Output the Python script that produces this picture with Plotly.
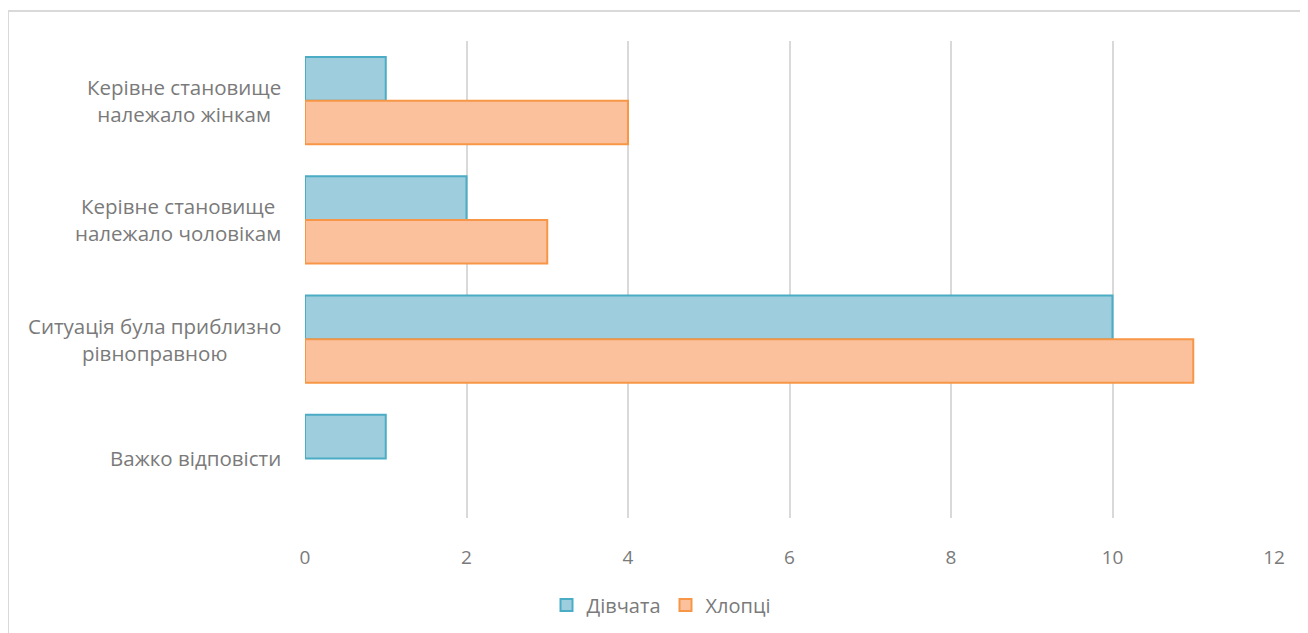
import plotly.graph_objects as go

categories = [
    "Керівне становище<br>належало жінкам",
    "Керівне становище<br>належало чоловікам",
    "Ситуація була приблизно<br>рівноправною",
    "Важко відповісти",
]
girls = [1, 2, 10, 1]
boys = [4, 3, 11, 0]
series_names = ["Дівчата", "Хлопці"]
x_ticks = [0, 2, 4, 6, 8, 10, 12]

FONT = "Open Sans"
TXT = "#7A7A7A"
FS = 20.5

# page body has an 8px margin; target pixel positions are shifted accordingly
OFF = 8
W, H = 1308, 633
ML, MR, MT, MB = 305 - OFF, 34 + OFF, 41 - OFF, 115 + OFF
PW, PH = W - ML - MR, H - MT - MB


def px_x(p):
    return (p - OFF - ML) / PW


def px_y(p):
    return (MT + PH - (p - OFF)) / PH


fig = go.Figure()
fig.add_trace(go.Bar(
    y=categories, x=girls, orientation="h", name=series_names[0],
    marker=dict(color="#9ECEDD",
                line=dict(color="#4BACC6", width=[2 if v else 0 for v in girls])),
))
fig.add_trace(go.Bar(
    y=categories, x=boys, orientation="h", name=series_names[1],
    marker=dict(color="#FAC19C",
                line=dict(color="#F79646", width=[2 if v else 0 for v in boys])),
))

annotations = []
for c in categories:
    annotations.append(dict(
        x=px_x(283), xref="paper", y=c, yref="y",
        text=c, showarrow=False, xanchor="right", yanchor="middle",
        align="center", font=dict(family=FONT, size=FS, color=TXT),
    ))

fig.update_layout(
    width=W, height=H,
    margin=dict(l=ML, r=MR, t=MT, b=MB),
    paper_bgcolor="white", plot_bgcolor="white",
    barmode="group", bargap=0.27, bargroupgap=0,
    font=dict(family=FONT, size=FS, color=TXT),
    xaxis=dict(
        range=[0, 12], tickvals=x_ticks, showgrid=True,
        gridcolor="#D9D9D9", gridwidth=1.5, zeroline=False,
        showline=False, ticks="", ticklabelstandoff=26,
        tickfont=dict(family=FONT, size=19, color=TXT), fixedrange=True,
    ),
    yaxis=dict(
        autorange="reversed", showticklabels=False, showgrid=False,
        zeroline=False, showline=False, ticks="",
    ),
    legend=dict(
        orientation="h", x=px_x(661), xanchor="center", y=px_y(605), yanchor="middle",
        font=dict(family=FONT, size=20, color=TXT), traceorder="normal",
        itemwidth=30,
    ),
    annotations=annotations,
    shapes=[dict(
        type="rect", xref="paper", yref="paper",
        x0=px_x(8), x1=px_x(1330), y0=px_y(650), y1=px_y(11),
        line=dict(color="#D9D9D9", width=2), fillcolor="rgba(0,0,0,0)",
        layer="below",
    )],
)

fig.write_html("out.html")
